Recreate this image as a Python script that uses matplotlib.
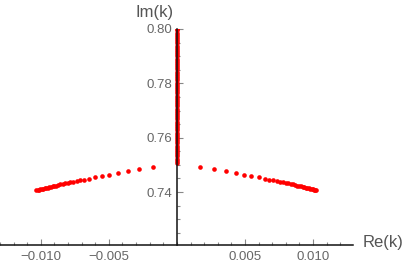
import matplotlib
matplotlib.use('Agg')
import matplotlib.pyplot as plt
from matplotlib.ticker import MultipleLocator, FixedLocator

# left branch (Re < 0)
left_re = [-0.01032, -0.01022, -0.01013, -0.01003, -0.00993, -0.00982, -0.00972,
           -0.00961, -0.00950, -0.00938, -0.00926, -0.00914, -0.00901, -0.00887,
           -0.00872, -0.00857, -0.00840, -0.00822, -0.00803, -0.00782, -0.00760,
           -0.00737, -0.00711, -0.00680, -0.00647, -0.00603, -0.00551, -0.00498,
           -0.00436, -0.00363, -0.00277, -0.00174]
left_im = [0.7407, 0.7408, 0.7409, 0.7410, 0.7411, 0.7412, 0.7413,
           0.7415, 0.7416, 0.7418, 0.7419, 0.7421, 0.7422, 0.7424,
           0.7426, 0.7428, 0.7430, 0.7432, 0.7434, 0.7436, 0.7438,
           0.7440, 0.7443, 0.7446, 0.7449, 0.7454, 0.7459, 0.7464,
           0.7470, 0.7477, 0.7485, 0.7493]

# right branch (Re > 0)
right_re = [0.00169, 0.00272, 0.00358, 0.00432, 0.00494, 0.00548, 0.00600,
            0.00644, 0.00677, 0.00708, 0.00734, 0.00757, 0.00779, 0.00800,
            0.00819, 0.00837, 0.00854, 0.00869, 0.00884, 0.00898, 0.00911,
            0.00923, 0.00935, 0.00947, 0.00958, 0.00969, 0.00979, 0.00990,
            0.01000, 0.01010, 0.01016, 0.01022]
right_im = [0.7493, 0.7485, 0.7477, 0.7470, 0.7464, 0.7459, 0.7454,
            0.7449, 0.7446, 0.7443, 0.7440, 0.7438, 0.7436, 0.7434,
            0.7432, 0.7430, 0.7428, 0.7426, 0.7424, 0.7422, 0.7421,
            0.7419, 0.7418, 0.7416, 0.7415, 0.7413, 0.7412, 0.7411,
            0.7410, 0.7409, 0.7408, 0.7407]

# purely imaginary branch
axis_im = [0.7507, 0.7515, 0.7523, 0.7531, 0.7539, 0.7547, 0.7555, 0.7563,
           0.7571, 0.7579, 0.7587, 0.7595, 0.7603, 0.7611, 0.7619, 0.7627,
           0.7635, 0.7643, 0.7651, 0.7659, 0.7667, 0.7675, 0.7683, 0.7691,
           0.7699, 0.7707, 0.7715, 0.7723, 0.7731, 0.7739, 0.7747, 0.7755,
           0.7763, 0.7771, 0.7779, 0.7787, 0.7795, 0.7803, 0.7811, 0.7819,
           0.7827, 0.7835, 0.7843, 0.7851, 0.7859, 0.7867, 0.7875, 0.7883,
           0.7891, 0.7899, 0.7907, 0.7915, 0.7923, 0.7931, 0.7939, 0.7947,
           0.7955, 0.7963, 0.7971, 0.7979, 0.7987, 0.7995, 0.8000]
axis_re = [0.0] * len(axis_im)

xticks = [-0.010, -0.005, 0.005, 0.010]
xticklabels = ['\u22120.010', '\u22120.005', '0.005', '0.010']
yticks = [0.74, 0.76, 0.78, 0.80]
yticklabels = ['0.74', '0.76', '0.78', '0.80']

plt.rcParams['font.family'] = ['Liberation Sans', 'DejaVu Sans']

fig = plt.figure(figsize=(4.09, 2.69), dpi=100)
ax = fig.add_axes([0.0, 0.0892, 353 / 409, 0.803])

red = '#ff0000'
ax.scatter(left_re, left_im, s=11, color=red, linewidths=0, zorder=3)
ax.scatter(right_re, right_im, s=11, color=red, linewidths=0, zorder=3)
ax.scatter(axis_re, axis_im, s=11, color=red, linewidths=0, zorder=3)

ax.set_xlim(-0.0130, 0.01294)
ax.set_ylim(0.7205, 0.80)

for side in ['top', 'right']:
    ax.spines[side].set_visible(False)
ax.spines['left'].set_position(('data', 0))
for side in ['left', 'bottom']:
    ax.spines[side].set_zorder(5)
    ax.spines[side].set_color('#111111')
    ax.spines[side].set_linewidth(1.1)

ax.xaxis.set_major_locator(FixedLocator(xticks))
ax.set_xticklabels(xticklabels)
ax.xaxis.set_minor_locator(MultipleLocator(0.001))
ax.yaxis.set_major_locator(FixedLocator(yticks))
ax.set_yticklabels(yticklabels)
ax.yaxis.set_minor_locator(MultipleLocator(0.005))

ax.tick_params(which='both', direction='in', color='#888888', width=0.8,
               labelcolor='#666666', labelsize=9.5)
ax.tick_params(which='major', length=4)
ax.tick_params(which='minor', length=2)
ax.tick_params(axis='x', pad=4)
ax.tick_params(axis='y', pad=3)

ax.patch.set_visible(False)

fig.text(155 / 409, 1 - 12 / 269, 'Im(k)', ha='center', va='center',
         fontsize=12, color='#555555')
fig.text(383 / 409, 1 - 243 / 269, 'Re(k)', ha='center', va='center',
         fontsize=12, color='#555555')

fig.savefig('out.png', dpi=100)
